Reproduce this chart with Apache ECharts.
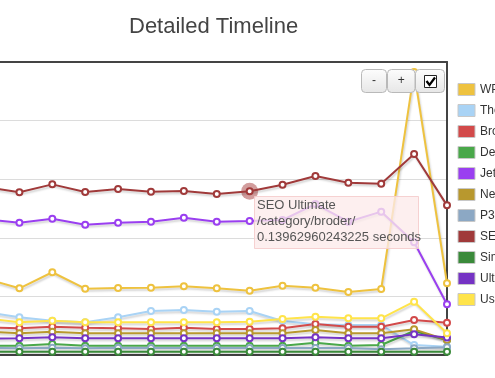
<!DOCTYPE html>
<html>
<head>
<meta charset="utf-8">
<script src="https://cdn.jsdelivr.net/npm/echarts@6.0.0/dist/echarts.min.js"></script>
<style>
  html, body { margin: 0; padding: 0; background: #fff; }
  #chart { width: 495px; height: 378px; }
</style>
</head>
<body>
<div id="chart"></div>
<script>
// runs along the timeline (the first one sits just past the left edge)
const runs = [1, 2, 3, 4, 5, 6, 7, 8, 9, 10, 11, 12, 13, 14, 15];

// seconds per plugin
const wpSuperCache = [0.0650, 0.0569, 0.0706, 0.0566, 0.0572, 0.0574, 0.0586, 0.0569, 0.0548, 0.0591, 0.0574, 0.0538, 0.0563, 0.2415, 0.0612];
const eventsCalendar = [0.0365, 0.0322, 0.0293, 0.0279, 0.0322, 0.0375, 0.0384, 0.0369, 0.0375, 0.0290, 0.0262, 0.0256, 0.0256, 0.0085, 0.0071];
const brokenLinks = [0.0237, 0.0228, 0.0241, 0.0233, 0.0228, 0.0222, 0.0233, 0.0222, 0.0222, 0.0228, 0.0265, 0.0241, 0.0241, 0.0299, 0.0276];
const deleteRevision = [0.0079, 0.0079, 0.0094, 0.0079, 0.0079, 0.0079, 0.0079, 0.0079, 0.0079, 0.0079, 0.0105, 0.0079, 0.0085, 0.0205, 0.0128];
const jetpack = [0.1158, 0.1129, 0.1163, 0.1112, 0.1129, 0.1137, 0.1172, 0.1137, 0.1143, 0.1152, 0.1288, 0.1137, 0.1223, 0.0962, 0.0433];
const nextgen = [0.0201, 0.0185, 0.0199, 0.0185, 0.0185, 0.0185, 0.0185, 0.0185, 0.0185, 0.0185, 0.0213, 0.0185, 0.0185, 0.0219, 0.0128];
const p3 = [0.0060, 0.0057, 0.0062, 0.0057, 0.0062, 0.0060, 0.0060, 0.0060, 0.0060, 0.0060, 0.0060, 0.0060, 0.0049, 0.0057, 0.0066];
const seoUltimate = [0.1432, 0.1388, 0.1456, 0.1391, 0.1416, 0.1393, 0.1399, 0.1374, 0.13962960243225, 0.1453, 0.1527, 0.1470, 0.1462, 0.1715, 0.1277];
const simpleTags = [0.0028, 0.0028, 0.0028, 0.0028, 0.0028, 0.0028, 0.0028, 0.0028, 0.0028, 0.0028, 0.0028, 0.0028, 0.0028, 0.0028, 0.0028];
const ultimateTinymce = [0.0141, 0.0142, 0.0151, 0.0142, 0.0142, 0.0142, 0.0142, 0.0142, 0.0142, 0.0142, 0.0151, 0.0142, 0.0142, 0.0177, 0.0149];
const userRoleEditor = [0.0311, 0.0279, 0.0293, 0.0279, 0.0279, 0.0279, 0.0279, 0.0279, 0.0284, 0.0307, 0.0327, 0.0313, 0.0313, 0.0455, 0.0185];

const names = ['WP Super Cache', 'The Events Calendar', 'Broken Link Checker', 'Delete Revision', 'Jetpack',
  'NextGEN Gallery', 'P3 (Plugin Performance Profiler)', 'SEO Ultimate', 'Simple Tags', 'Ultimate TinyMCE', 'User Role Editor'];
const values = [wpSuperCache, eventsCalendar, brokenLinks, deleteRevision, jetpack,
  nextgen, p3, seoUltimate, simpleTags, ultimateTinymce, userRoleEditor];
const colors = ['#eec23f', '#a9d3f5', '#d24a4a', '#4aa84a', '#9a3ff0',
  '#b8982e', '#8ca8c4', '#a03a3a', '#3a8a3a', '#7533c4', '#ffe44a'];

const hovered = 7;   // SEO Ultimate
const hoveredRun = 8;

let myChart = echarts.init(document.getElementById('chart'));

const series = names.map((name, i) => {
  const s = {
    name: name,
    type: 'line',
    data: runs.map((r, j) => [r, values[i][j]]),
    symbol: 'emptyCircle',
    symbolSize: 6,
    itemStyle: { color: colors[i], borderWidth: 2 },
    lineStyle: {
      width: 2,
      shadowColor: 'rgba(0,0,0,0.18)',
      shadowBlur: 2,
      shadowOffsetX: 1,
      shadowOffsetY: 2
    }
  };
  if (i === hovered) {
    s.markPoint = {
      z: 1,
      symbol: 'circle',
      symbolSize: 17,
      silent: true,
      itemStyle: { color: 'rgba(165,60,60,0.5)', borderWidth: 0 },
      label: { show: false },
      data: [{ coord: [runs[hoveredRun], values[i][hoveredRun]] }]
    };
  }
  return s;
});

function button(x, w, label) {
  return {
    type: 'group',
    children: [
      {
        type: 'rect',
        z: 50,
        shape: { x: x, y: 69.5, width: w, height: 23, r: 4 },
        style: {
          fill: new echarts.graphic.LinearGradient(0, 0, 0, 1, [
            { offset: 0, color: '#fdfdfd' }, { offset: 1, color: '#e6e6e6' }
          ]),
          stroke: '#b9b9b9', lineWidth: 1
        }
      },
      label ? {
        type: 'text',
        z: 51,
        style: { x: x + w / 2, y: 81, text: label, fill: '#333', font: '12px Arial', align: 'center', verticalAlign: 'middle' }
      } : null
    ].filter(Boolean)
  };
}

const frameLine = { show: true, lineStyle: { color: '#444', width: 2 } };

const option = {
  animation: false,
  color: colors,
  title: {
    text: 'Detailed Timeline',
    left: 124,
    top: 11,
    textStyle: { fontFamily: 'Liberation Sans, Arial', fontSize: 22, fontWeight: 'normal', color: '#444' }
  },
  legend: {
    orient: 'vertical',
    left: 457.5,
    top: 83,
    padding: 0,
    itemWidth: 17,
    itemHeight: 12,
    itemGap: 8,
    icon: 'rect',
    itemStyle: { borderColor: '#c8c8c8', borderWidth: 1 },
    textStyle: { fontFamily: 'Liberation Sans, Arial', fontSize: 12, color: '#333' },
    data: names
  },
  grid: {
    left: 0,
    right: 48,
    top: 62,
    bottom: 23
  },
  xAxis: [
    {
      type: 'value',
      min: 1.41,
      max: 15,
      position: 'bottom',
      axisLine: frameLine,
      axisTick: { show: false },
      axisLabel: { show: false },
      splitLine: { show: false }
    },
    {
      type: 'value',
      min: 1.41,
      max: 15,
      position: 'top',
      axisLine: frameLine,
      axisTick: { show: false },
      axisLabel: { show: false },
      splitLine: { show: false }
    }
  ],
  yAxis: {
    type: 'value',
    min: 0,
    max: 0.25,
    interval: 0.05,
    position: 'right',
    axisLine: frameLine,
    axisTick: { show: false },
    axisLabel: { show: false },
    splitLine: { lineStyle: { color: '#dcdcdc', width: 1 } }
  },
  series: series,
  graphic: [
    button(361.5, 25, '-'),
    button(387.5, 27.5, '+'),
    button(415.5, 29, ''),
    {
      type: 'rect',
      z: 52,
      shape: { x: 424.5, y: 75.5, width: 12, height: 12 },
      style: { fill: '#fff', stroke: '#222', lineWidth: 1 }
    },
    {
      type: 'polyline',
      z: 53,
      shape: { points: [[426.5, 81], [429.5, 85], [435, 77.5]] },
      style: { stroke: '#000', lineWidth: 2.2, fill: null }
    },
    {
      type: 'rect',
      z: 100,
      shape: { x: 254.5, y: 196.5, width: 164, height: 52 },
      style: { fill: 'rgba(253,234,234,0.78)', stroke: 'rgba(245,205,205,0.9)', lineWidth: 1 }
    },
    {
      type: 'text',
      z: 101,
      style: {
        x: 257, y: 197,
        text: names[hovered] + '\n/category/broder/\n' + values[hovered][hoveredRun] + ' seconds',
        font: '13px Liberation Sans, Arial',
        lineHeight: 16,
        fill: '#555'
      }
    }
  ]
};
myChart.setOption(option);
</script>
</body>
</html>
